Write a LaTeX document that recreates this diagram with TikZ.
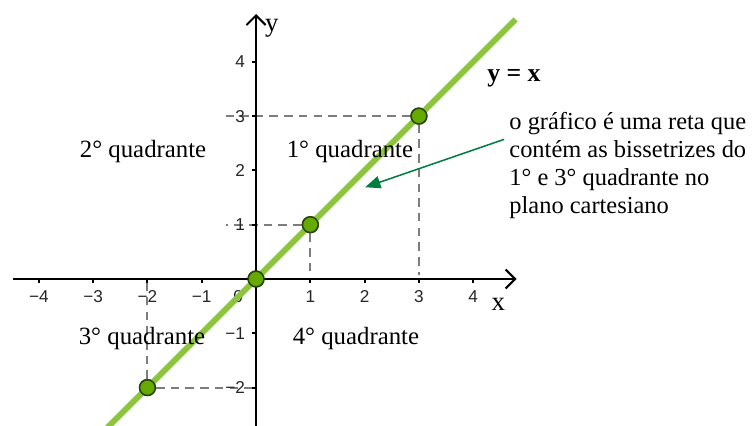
\documentclass[tikz,border=0pt]{standalone}
\usepackage{fontspec}
\setmainfont{Liberation Serif}
\newfontfamily\tickfont{Liberation Sans}
\usetikzlibrary{arrows.meta}
\definecolor{linegreen}{RGB}{140,196,64}
\definecolor{ptgreen}{RGB}{102,170,0}
\definecolor{ptedge}{RGB}{40,70,10}
\definecolor{arrgreen}{RGB}{0,125,65}
\definecolor{dashgray}{RGB}{125,125,125}
\begin{document}
\begin{tikzpicture}[x=1cm,y=1cm,
  axis/.style={line width=1.1pt, -{Straight Barb[length=5pt,width=10pt,line width=1.1pt]}},
  tickmark/.style={line width=1pt},
  ticklabel/.style={font=\tickfont\fontsize{9}{10}\selectfont, text=black!85, inner sep=1pt},
  guide/.style={dashgray, line width=1pt, dash pattern=on 4.5pt off 3.2pt},
  pt/.style={circle, draw=ptedge, fill=ptgreen, line width=0.8pt, minimum size=0.29cm, inner sep=0pt},
  quad/.style={font=\fontsize{13}{15}\selectfont, inner sep=0pt},
  axlabel/.style={font=\fontsize{14}{16}\selectfont, inner sep=0pt},
]
\useasboundingbox (-4.715,-2.707) rectangle (9.171,5.138);

% named points
\node[pt] (p0) at (0,0) {};
\node[pt] (p1) at (1,1) {};
\node[pt] (p3) at (3,3) {};
\node[pt] (pm2) at (-2,-2) {};
\coordinate (o) at (0,0);
\coordinate (xl) at (-4.47,0);
\coordinate (xr) at (4.8,0);
\coordinate (yb) at (0,-2.75);
\coordinate (yt) at (0,4.88);
\coordinate (lb) at (-2.76,-2.76);
\coordinate (lt) at (4.78,4.78);
\coordinate (h3) at (-0.55,3);
\coordinate (h1) at (-0.55,1);
\coordinate (v3) at (3,0.08);
\coordinate (v1) at (1,0.08);
\coordinate (vm2) at (-2,0);
\coordinate (hm2) at (0,-2);

% guides
\draw[guide] (p3) -- (h3);
\draw[guide] (p3) -- (v3);
\draw[guide] (p1) -- (h1);
\draw[guide] (p1) -- (v1);
\draw[guide] (pm2) -- (vm2);
\draw[guide] (pm2) -- (hm2);

% axes
\draw[axis] (xl) -- (xr);
\draw[axis] (yb) -- (yt);
\foreach \i in {-4,-3,-2,-1,1,2,3,4} {
  \draw[tickmark] (\i,0) -- (\i,-0.07);
}
\foreach \i in {-2,-1,1,2,3,4} {
  \draw[tickmark] (0,\i) -- (-0.07,\i);
}

% tick labels
\foreach \i/\t in {-4/−4,-3/−3,-2/−2,-1/−1,1/1,2/2,3/3,4/4} {
  \node[ticklabel] (tx\i) at (\i,-0.33) {\t};
}
\node[ticklabel] (tx0) at (-0.33,-0.33) {0};
\foreach \i/\t in {4/4,3/3,2/2,1/1,-1/−1,-2/−2} {
  \node[ticklabel, anchor=east] (ty\i) at (-0.16,\i) {\t};
}

% the line y = x
\draw[linegreen, line width=3.1pt] (lb) -- (lt);
\node[pt] at (p0) {};
\node[pt] at (p1) {};
\node[pt] at (p3) {};
\node[pt] at (pm2) {};

% axis names
\node[axlabel] (xname) at (4.46,-0.46) {x};
\node[axlabel] (yname) at (0.29,4.62) {y};

% quadrant labels
\node[quad] (q2) at (-2.08,2.34) {2° quadrante};
\node[quad] (q1) at (1.73,2.34) {1° quadrante};
\node[quad] (q3) at (-2.10,-1.09) {3° quadrante};
\node[quad] (q4) at (1.84,-1.09) {4° quadrante};

% y = x label
\node[font=\fontsize{13.5}{15}\selectfont\bfseries, inner sep=0pt] (eq) at (4.75,3.70) {y = x};

% note
\node[anchor=north west, align=left, font=\fontsize{12.8}{14.7}\selectfont, inner sep=0pt] (note) at (4.66,3.08)
  {o gráfico é uma reta que\\contém as bissetrizes do\\1° e 3° quadrante no\\plano cartesiano};
\coordinate (tip) at (2.01,1.69);
\draw[arrgreen, line width=0.8pt, -{Triangle[length=8pt,width=6.5pt]}] ([xshift=-0.09cm,yshift=0.48cm]note.west) -- (tip);
\end{tikzpicture}
\end{document}
